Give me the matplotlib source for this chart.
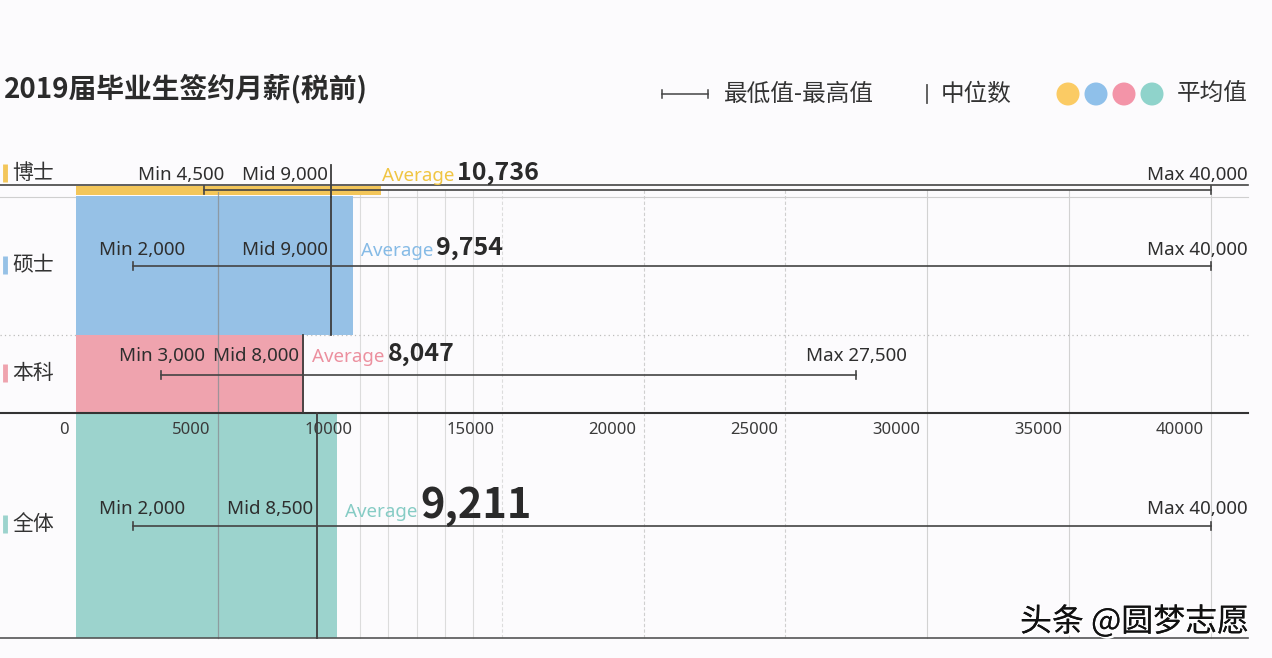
import matplotlib
matplotlib.use("Agg")
import matplotlib.pyplot as plt
import matplotlib.patheffects as pe
from matplotlib.patches import Ellipse

plt.rcParams['font.family'] = ['Noto Sans CJK SC', 'DejaVu Sans']
LATIN = ['Noto Sans', 'Noto Sans CJK SC', 'DejaVu Sans']

# ---------------- data ----------------
categories = ['博士', '硕士', '本科', '全体']
min_vals = [4500, 2000, 3000, 2000]
mid_vals = [9000, 9000, 8000, 8500]
avg_vals = [10736, 9754, 8047, 9211]
max_vals = [40000, 40000, 27500, 40000]
tick_vals = [0, 5000, 10000, 15000, 20000, 25000, 30000, 35000, 40000]
bar_colors = ['#f3c65a', '#96c1e6', '#efa3ae', '#9cd3cd']
avg_text_colors = ['#f0c543', '#86bbe6', '#ec909f', '#86ccc5']
legend_colors = ['#fbcb64', '#8fc0ea', '#f394a8', '#8fd3cb']

# ---------------- layout (pixels) ----------------
W, H = 1272, 658
X0, X40 = 76, 1211
S = (X40 - X0) / 40000.0          # px per unit
RIGHT = 1248

def px(v):
    return v / S

bar_span = [(186, 195), (196, 335), (335, 412), (413, 638)]
mid_span = [(165, 197), (197, 335), (335, 412), (413, 638)]
whisk_y = [190, 266, 375, 526]
txt_y = [175, 250, 356, 509]
cat_y = [173, 265, 373, 524]
min_off = [-23, 9, 1, 9]          # px offset of Min label centre vs min mark
num_size = [18, 18, 18, 30]

fig = plt.figure(figsize=(W / 100, H / 100), dpi=100)
fig.patch.set_facecolor('#fcfbfd')
ax = fig.add_axes([0, 0, 1, 1])
ax.set_facecolor('#fcfbfd')
ax.set_xlim(-X0 / S, (W - X0) / S)
ax.set_ylim(H, 0)
ax.axis('off')

# bars (average)
for i in range(4):
    t, b = bar_span[i]
    ax.barh((t + b) / 2, avg_vals[i], height=b - t, left=0,
            color=bar_colors[i], zorder=2, linewidth=0)

# vertical grid lines
for v in range(10000, 15001, 1000):
    ls = (0, (3, 2)) if v == 15000 else '-'
    ax.plot([v, v], [190, 638], color='#dcdcdc', lw=0.8, ls=ls, zorder=1)
for v in [20000, 25000]:
    ax.plot([v, v], [190, 638], color='#cfcfcf', lw=0.8, ls=(0, (3, 2)), zorder=1)
for v in [30000, 35000, 40000]:
    ax.plot([v, v], [190, 638], color='#d2d2d2', lw=0.8, zorder=1)
ax.plot([5000, 5000], [192, 638], color='#8a8f94', lw=0.9, zorder=3, alpha=0.8)

# horizontal rules
xl, xr = px(0 - X0), px(RIGHT - X0)
ax.plot([xl, xr], [185, 185], color='#444444', lw=1.2, zorder=4)
ax.plot([xl, xr], [197, 197], color='#cfcfcf', lw=0.8, zorder=1)
ax.plot([xl, xr], [335, 335], color='#bdbdbd', lw=0.9, ls=(0, (1, 2.5)), zorder=1)
ax.plot([xl, xr], [413, 413], color='#333333', lw=1.5, zorder=4)
ax.plot([xl, xr], [638, 638], color='#555555', lw=1.2, zorder=4)

# median lines
for i in range(4):
    t, b = mid_span[i]
    ax.plot([mid_vals[i]] * 2, [t, b], color='#3d3d3d', lw=1.3, zorder=5)

# whiskers
for i in range(4):
    y = whisk_y[i]
    ax.plot([min_vals[i], max_vals[i]], [y, y], color='#444444', lw=1.2, zorder=5)
    for v in (min_vals[i], max_vals[i]):
        ax.plot([v, v], [y - 4, y + 4], color='#444444', lw=1.2, zorder=5)

# tick labels
for v in tick_vals:
    ax.text(v - px(7), 430, f'{v}', ha='right', va='center', fontsize=12,
            family=LATIN, color='#3a3a3a', zorder=6)

# category labels
for i in range(4):
    ax.plot([px(5 - X0)] * 2, [cat_y[i] - 9, cat_y[i] + 9], color=bar_colors[i],
            lw=3.5, solid_capstyle='butt', zorder=6)
    ax.text(px(12 - X0), cat_y[i], categories[i], ha='left', va='center',
            fontsize=15, color='#333333', zorder=6)

fig.canvas.draw()
rend = fig.canvas.get_renderer()
inv = ax.transData.inverted()

for i in range(4):
    y = txt_y[i]
    ax.text(min_vals[i] + px(min_off[i]), y, f'Min {min_vals[i]:,}', ha='center',
            va='center', fontsize=13.5, family=LATIN, color='#2e2e2e', zorder=6)
    ax.text(mid_vals[i] - px(4), y, f'Mid {mid_vals[i]:,}', ha='right',
            va='center', fontsize=13.5, family=LATIN, color='#2e2e2e', zorder=6)
    if max_vals[i] >= 40000:
        ax.text(px(RIGHT - X0), y, f'Max {max_vals[i]:,}', ha='right',
                va='center', fontsize=13.5, family=LATIN, color='#2e2e2e', zorder=6)
    else:
        ax.text(max_vals[i], y, f'Max {max_vals[i]:,}', ha='center',
                va='center', fontsize=13.5, family=LATIN, color='#2e2e2e', zorder=6)
    # average label
    ax_start = avg_vals[i] + px(8 if i else 1)
    base_y = y + (3 if i == 3 else 1)
    t = ax.text(ax_start, base_y, 'Average', ha='left', va='center',
                fontsize=13.5, family=LATIN, color=avg_text_colors[i], zorder=6)
    bb = t.get_window_extent(renderer=rend)
    x_end = inv.transform((bb.x1, bb.y0))[0]
    ny = base_y - (6 if i == 3 else 3)
    ax.text(x_end + px(3), ny, f'{avg_vals[i]:,}', ha='left', va='center',
            fontsize=num_size[i], fontweight='bold',
            family=['Noto Sans CJK SC', 'DejaVu Sans'],
            color='#2a2a2a', zorder=6)

# title
ax.text(px(4 - X0), 89, '2019届毕业生签约月薪(税前)', ha='left', va='center',
        fontsize=20, fontweight='bold', color='#2b2b2b')

# legend
ly = 94
ax.plot([px(662 - X0), px(708 - X0)], [ly, ly], color='#444444', lw=1.1)
for xx in (662, 708):
    ax.plot([px(xx - X0)] * 2, [ly - 4, ly + 4], color='#444444', lw=1.1)
ax.text(px(724 - X0), ly, '最低值-最高值', ha='left', va='center', fontsize=17,
        color='#333333')
ax.plot([px(927 - X0)] * 2, [ly - 9, ly + 9], color='#555555', lw=1.3)
ax.text(px(941 - X0), ly, '中位数', ha='left', va='center', fontsize=17,
        color='#333333')
for k, cx in enumerate([1068, 1096, 1124, 1152]):
    ax.add_patch(Ellipse((px(cx - X0), ly), px(23), 23, color=legend_colors[k],
                         lw=0, zorder=6))
ax.text(px(1177 - X0), ly, '平均值', ha='left', va='center', fontsize=17,
        color='#333333')

# watermark
ax.text(px(1020 - X0), 622, '头条 @圆梦志愿', ha='left', va='center', fontsize=23,
        color='#111111', zorder=8,
        path_effects=[pe.withSimplePatchShadow(offset=(1.5, -1.5),
                                               shadow_rgbFace='white', alpha=1),
                      pe.Normal()])

fig.savefig('out.png', dpi=100, facecolor=fig.get_facecolor())
